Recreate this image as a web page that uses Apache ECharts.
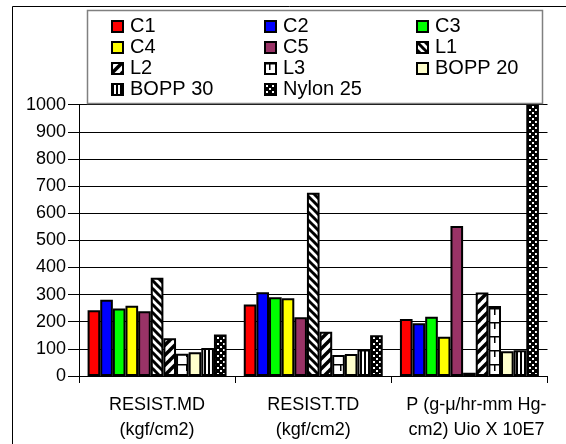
<!DOCTYPE html>
<html>
<head>
<meta charset="utf-8">
<script src="https://cdn.jsdelivr.net/npm/echarts@6/dist/echarts.min.js"></script>
<style>
  html, body { margin: 0; padding: 0; background: #fff; }
  #chart { width: 566px; height: 444px; }
</style>
</head>
<body>
<div id="chart"></div>
<script>
// Film property comparison: tensile strength (MD / TD) and permeability
const categories = [
  'RESIST.MD\n(kgf/cm2)',
  'RESIST.TD\n(kgf/cm2)',
  'P (g-μ/hr-mm Hg-\ncm2) Uio X 10E7'
];
const seriesNames = ['C1', 'C2', 'C3', 'C4', 'C5', 'L1', 'L2', 'L3', 'BOPP 20', 'BOPP 30', 'Nylon 25'];

const C1 = [242, 264, 210];
const C2 = [281, 309, 194];
const C3 = [249, 290, 218];
const C4 = [259, 287, 145];
const C5 = [239, 217, 553];
const L1 = [362, 675, 12];
const L2 = [139, 163, 308];
const L3 = [82, 77, 258];
const BOPP20 = [88, 81, 91];
const BOPP30 = [103, 98, 95];
const Nylon25 = [153, 150, 1100];

const yTicks = { min: 0, max: 1000, step: 100 };

// ---- fill patterns drawn on small canvases ----
function tile(w, h, draw) {
  const c = document.createElement('canvas');
  c.width = w; c.height = h;
  const ctx = c.getContext('2d');
  draw(ctx, w, h);
  return { image: c, repeat: 'repeat' };
}
// dark downward diagonal stripes
const patL1 = tile(8, 8, (ctx, w, h) => {
  ctx.fillStyle = '#fff'; ctx.fillRect(0, 0, w, h);
  ctx.strokeStyle = '#000'; ctx.lineWidth = 3;
  for (let k = -1; k <= 1; k++) {
    ctx.beginPath(); ctx.moveTo(k * w - 1, -1); ctx.lineTo(k * w + w + 1, h + 1); ctx.stroke();
  }
});
// wide upward diagonal stripes
const patL2 = tile(10, 10, (ctx, w, h) => {
  ctx.fillStyle = '#fff'; ctx.fillRect(0, 0, w, h);
  ctx.strokeStyle = '#000'; ctx.lineWidth = 3.5;
  for (let k = -1; k <= 1; k++) {
    ctx.beginPath(); ctx.moveTo(k * w - 1, h + 1); ctx.lineTo(k * w + w + 1, -1); ctx.stroke();
  }
});
// horizontal brick lines
const patL3 = tile(14, 14, (ctx, w, h) => {
  ctx.fillStyle = '#fff'; ctx.fillRect(0, 0, w, h);
  ctx.fillStyle = '#000';
  ctx.fillRect(0, 0, w, 1.5);
  ctx.fillRect(4, 0, 1.5, h / 2);
});
// narrow vertical stripes
const patBOPP30 = tile(4, 4, (ctx, w, h) => {
  ctx.fillStyle = '#fff'; ctx.fillRect(0, 0, w, h);
  ctx.fillStyle = '#000'; ctx.fillRect(0, 0, 2, h);
});
// black with staggered white dots
const patNylon = tile(6, 6, (ctx, w, h) => {
  ctx.fillStyle = '#000'; ctx.fillRect(0, 0, w, h);
  ctx.fillStyle = '#fff';
  ctx.fillRect(1, 1, 2, 2);
  ctx.fillRect(4, 4, 2, 2);
});

const fills = {
  'C1': '#FF0000',
  'C2': '#0000FF',
  'C3': '#00FF00',
  'C4': '#FFFF00',
  'C5': '#993366',
  'L1': patL1,
  'L2': patL2,
  'L3': patL3,
  'BOPP 20': '#FFFFCC',
  'BOPP 30': patBOPP30,
  'Nylon 25': patNylon
};
const values = {
  'C1': C1, 'C2': C2, 'C3': C3, 'C4': C4, 'C5': C5,
  'L1': L1, 'L2': L2, 'L3': L3,
  'BOPP 20': BOPP20, 'BOPP 30': BOPP30, 'Nylon 25': Nylon25
};

const FONT = 'Liberation Sans, Arial, sans-serif';

const legendCols = [
  ['C1', 'C4', 'L2', 'BOPP 30'],
  ['C2', 'C5', 'L3', 'Nylon 25'],
  ['C3', 'L1', 'BOPP 20']
];
const legendLeft = [111, 264, 416];

const chart = echarts.init(document.getElementById('chart'), null, { renderer: 'canvas' });

chart.setOption({
  animation: false,
  backgroundColor: '#fff',
  graphic: [
    {
      type: 'rect', z: 0, silent: true,
      shape: { x: 12.5, y: 6.5, width: 700, height: 600 },
      style: { fill: null, stroke: '#000', lineWidth: 1 }
    },
    {
      type: 'rect', z: 3, silent: true,
      shape: { x: 87.5, y: 10.5, width: 455, height: 93 },
      style: { fill: '#fff', stroke: '#808080', lineWidth: 1.5 }
    }
  ],
  legend: legendCols.map((col, i) => ({
    data: col,
    orient: 'vertical',
    left: legendLeft[i],
    top: 16,
    padding: 0,
    itemGap: 0,
    itemWidth: 11,
    itemHeight: 11,
    icon: 'rect',
    z: 4,
    selectedMode: false,
    textStyle: {
      fontFamily: FONT, fontSize: 20, color: '#000',
      lineHeight: 21, padding: [0, 0, 0, 2]
    }
  })),
  grid: { left: 79, right: 18.5, top: 104.7, bottom: 68, containLabel: false },
  xAxis: {
    type: 'category',
    data: categories.map((c, i) => i === 2 ? { value: c, textStyle: { padding: [0, 0, 0, 14] } } : c),
    axisLine: { lineStyle: { color: '#000', width: 1 } },
    axisTick: { show: true, length: 7, lineStyle: { color: '#000' } },
    axisLabel: {
      interval: 0, margin: 17, color: '#000',
      fontFamily: FONT, fontSize: 18, lineHeight: 25
    },
    splitLine: { show: false }
  },
  yAxis: {
    type: 'value',
    min: yTicks.min, max: yTicks.max, interval: yTicks.step,
    axisLine: { show: true, lineStyle: { color: '#000', width: 1 } },
    axisTick: { show: true, length: 11, lineStyle: { color: '#000' } },
    axisLabel: {
      margin: 13, color: '#000', fontFamily: FONT, fontSize: 18,
      formatter: v => String(v)
    },
    splitLine: { show: true, lineStyle: { color: '#000', width: 1 } }
  },
  series: seriesNames.map(name => ({
    name: name,
    type: 'bar',
    data: values[name],
    clip: true,
    barGap: '0%',
    barCategoryGap: '11%',
    itemStyle: { color: fills[name], borderColor: '#000', borderWidth: 2 }
  }))
});
</script>
</body>
</html>
